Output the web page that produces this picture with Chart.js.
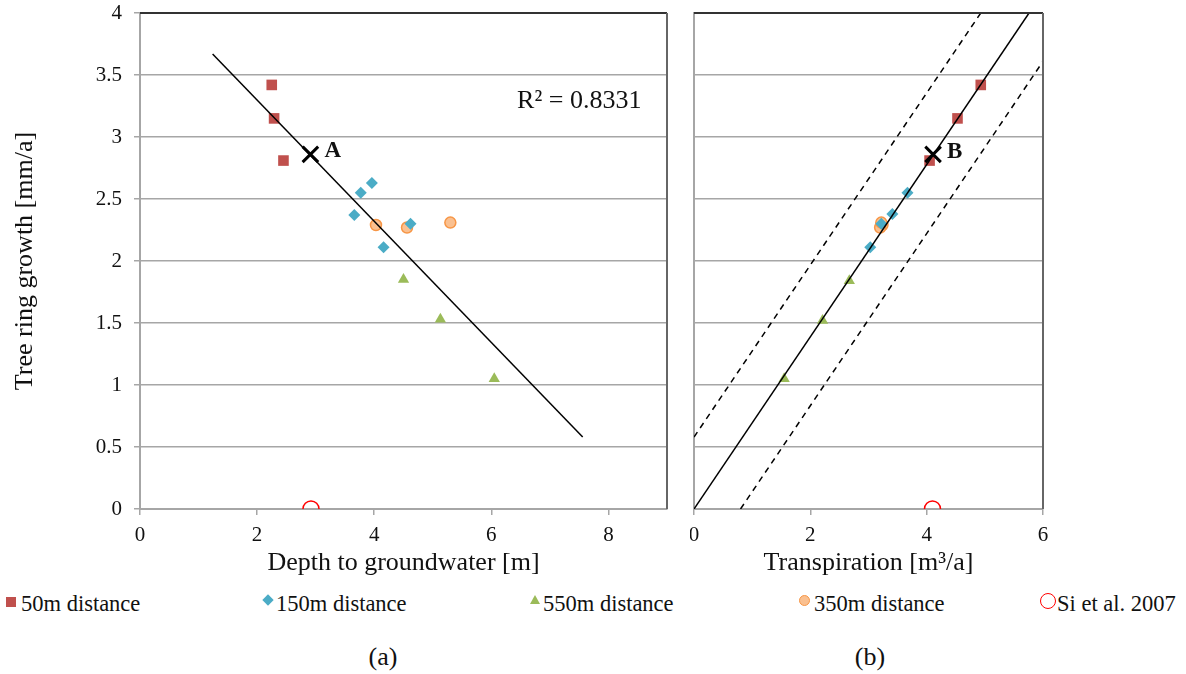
<!DOCTYPE html>
<html>
<head>
<meta charset="utf-8">
<script src="https://cdn.jsdelivr.net/npm/chart.js@4.4.0/dist/chart.umd.min.js"></script>
<style>
body { margin: 0; background: #fff; }
#wrap { position: relative; width: 1186px; height: 674px; font-family: 'Liberation Serif', 'Times New Roman', serif; color: #111; overflow: hidden; }
#c1 { position: absolute; left: 0; top: 0; }
#c2 { position: absolute; left: 690px; top: 0; }
.leg { position: absolute; top: 591px; font-size: 22.5px; line-height: 26px; white-space: nowrap; }
.mk { position: absolute; }
.cap { position: absolute; top: 642px; font-size: 26px; line-height: 30px; transform: translateX(-50%); }
</style>
</head>
<body>
<div id="wrap">
  <canvas id="c1" width="690" height="590"></canvas>
  <canvas id="c2" width="496" height="590"></canvas>

  <div class="mk" style="left:6px;top:597px;width:10px;height:10px;background:#C0504D"></div>
  <div class="leg" style="left:21px">50m distance</div>
  <div class="mk" style="left:264px;top:596px;width:8px;height:8px;background:#4BACC6;transform:rotate(45deg)"></div>
  <div class="leg" style="left:276px">150m distance</div>
  <div class="mk" style="left:530px;top:595px;width:0;height:0;border-left:5px solid transparent;border-right:5px solid transparent;border-bottom:9px solid #9BBB59"></div>
  <div class="leg" style="left:543px">550m distance</div>
  <div class="mk" style="left:799px;top:595px;width:9px;height:9px;border-radius:50%;background:#FAC090;border:1.5px solid #F79646"></div>
  <div class="leg" style="left:814px">350m distance</div>
  <div class="mk" style="left:1040px;top:593px;width:14px;height:14px;border-radius:50%;border:1.5px solid #FF0000"></div>
  <div class="leg" style="left:1057px">Si et al. 2007</div>

  <div class="cap" style="left:383px">(a)</div>
  <div class="cap" style="left:870px">(b)</div>
</div>
<script>
// (a) depth to groundwater [m] vs tree ring growth [mm/a]
const depth50 = [2.25, 2.29, 2.45];
const growth50 = [3.42, 3.15, 2.81];
const depth150 = [3.96, 3.77, 3.66, 4.62, 4.16];
const growth150 = [2.63, 2.55, 2.37, 2.30, 2.11];
const depth350 = [4.03, 4.56, 5.30];
const growth350 = [2.29, 2.27, 2.31];
const depth550 = [4.50, 5.13, 6.05];
const growth550 = [1.85, 1.53, 1.05];
const depthSi = [2.92];
const growthSi = [0];
const depthA = [2.91];
const growthA = [2.86];
const trendDepth = [1.24, 7.56];
const trendGrowth = [3.67, 0.58];

// (b) transpiration [m3/a] vs tree ring growth [mm/a]
const transp50 = [4.93, 4.53, 4.05];
const tGrowth50 = [3.42, 3.15, 2.81];
const transp150 = [3.67, 3.41, 3.03, 3.22];
const tGrowth150 = [2.55, 2.38, 2.11, 2.30];
const transp350 = [3.24, 3.20, 3.22];
const tGrowth350 = [2.29, 2.27, 2.31];
const transp550 = [2.67, 2.21, 1.55];
const tGrowth550 = [1.84, 1.52, 1.05];
const transpSi = [4.10];
const tGrowthSi = [0];
const transpB = [4.11];
const tGrowthB = [2.86];
const fitT = [0, 5.76];
const fitG = [0, 4];
const upperT = [0, 4.93];
const upperG = [0.58, 4];
const lowerT = [0.8, 6];
const lowerG = [0, 3.61];

const yTicks = [0, 0.5, 1, 1.5, 2, 2.5, 3, 3.5, 4];

const serif = "'Liberation Serif', 'Times New Roman', serif";
const gridGrey = '#a6a6a6';

function pts(xs, ys) {
    return xs.map(function(x, i) { return {x: x, y: ys[i]}; });
}

function markers(xs, ys, style, radius, fill, border, bw) {
    return {
        data: pts(xs, ys),
        pointStyle: style,
        pointRadius: radius,
        backgroundColor: fill,
        borderColor: border,
        pointBorderWidth: bw,
        borderWidth: bw,
        order: 3
    };
}

function line(xs, ys, dash) {
    return {
        data: pts(xs, ys),
        showLine: true,
        borderColor: '#000',
        borderWidth: 1.5,
        borderDash: dash || [],
        pointRadius: 0,
        order: 1
    };
}

function cross(xs, ys) {
    return {
        data: pts(xs, ys),
        pointStyle: 'crossRot',
        pointRadius: 11,
        borderColor: '#000',
        pointBorderWidth: 3,
        order: 0
    };
}

// keep the plot area fixed: no extra room for overflowing tick labels
function noOverflow(s) {
    s.paddingTop = 0;
    s.paddingBottom = 0;
    s.paddingLeft = 0;
    s.paddingRight = 0;
}

// frame on top and right plus text notes placed in data units
function framePlugin(notes) {
    return {
        id: 'frame',
        afterDraw(chart) {
            const a = chart.chartArea;
            const ctx = chart.ctx;
            ctx.save();
            ctx.lineWidth = 2;
            ctx.strokeStyle = '#333';
            ctx.beginPath();
            ctx.moveTo(a.left, a.top);
            ctx.lineTo(a.right, a.top);
            ctx.stroke();
            ctx.strokeStyle = '#666';
            ctx.beginPath();
            ctx.moveTo(a.right, a.top);
            ctx.lineTo(a.right, a.bottom);
            ctx.stroke();
            notes.forEach(function(n) {
                ctx.font = n.font;
                ctx.fillStyle = '#111';
                ctx.textAlign = 'left';
                ctx.textBaseline = 'middle';
                ctx.fillText(n.text, chart.scales.x.getPixelForValue(n.x), chart.scales.y.getPixelForValue(n.y));
            });
            ctx.restore();
        }
    };
}

function xAxis(max, title, height) {
    return {
        type: 'linear', min: 0, max: max,
        ticks: { stepSize: 2, includeBounds: false, color: '#111', padding: 8, font: { family: serif, size: 21 } },
        grid: { drawOnChartArea: false, tickLength: 6, color: gridGrey, lineWidth: 1.5 },
        border: { color: gridGrey, width: 2 },
        title: { display: true, text: title, color: '#111', font: { family: serif, size: 26 }, padding: { top: 0, bottom: 11 } },
        afterFit(s) { s.height = height; noOverflow(s); }
    };
}

Chart.defaults.animation = false;

new Chart(document.getElementById('c1'), {
    type: 'scatter',
    data: {
        datasets: [
            cross(depthA, growthA),
            line(trendDepth, trendGrowth),
            markers(depth50, growth50, 'rect', 7.5, '#C0504D', '#C0504D', 0),
            markers(depth150, growth150, 'rectRot', 6, '#4BACC6', '#4BACC6', 0),
            markers(depth350, growth350, 'circle', 5.5, '#FAC090', '#F79646', 1.5),
            markers(depth550, growth550, 'triangle', 6.5, '#9BBB59', '#9BBB59', 0),
            markers(depthSi, growthSi, 'circle', 8, 'rgba(0,0,0,0)', '#FF0000', 1.5)
        ]
    },
    options: {
        responsive: false,
        layout: { autoPadding: false, padding: { left: 0, top: 13, right: 23, bottom: 0 } },
        plugins: { legend: { display: false }, tooltip: { enabled: false } },
        scales: {
            x: xAxis(9, 'Depth to groundwater [m]', 81),
            y: {
                min: 0, max: 4,
                afterBuildTicks(s) { s.ticks = yTicks.map(function(v) { return {value: v}; }); },
                ticks: { color: '#111', padding: 12, font: { family: serif, size: 21 }, callback: function(v) { return String(v); } },
                grid: { color: gridGrey, lineWidth: 1.5, tickLength: 6 },
                border: { color: gridGrey, width: 2 },
                title: { display: true, text: 'Tree ring growth [mm/a]', color: '#111', font: { family: serif, size: 26 }, padding: { top: 10 } },
                afterFit(s) { s.width = 140; noOverflow(s); }
            }
        }
    },
    plugins: [framePlugin([
        { text: 'A', x: 3.15, y: 2.89, font: 'bold 23px ' + serif },
        { text: 'R\u00b2 = 0.8331', x: 6.44, y: 3.29, font: '26px ' + serif }
    ])]
});

new Chart(document.getElementById('c2'), {
    type: 'scatter',
    data: {
        datasets: [
            cross(transpB, tGrowthB),
            line(fitT, fitG),
            line(upperT, upperG, [6, 5]),
            line(lowerT, lowerG, [6, 5]),
            markers(transp50, tGrowth50, 'rect', 7.5, '#C0504D', '#C0504D', 0),
            markers(transp150, tGrowth150, 'rectRot', 6, '#4BACC6', '#4BACC6', 0),
            markers(transp350, tGrowth350, 'circle', 5.5, '#FAC090', '#F79646', 1.5),
            markers(transp550, tGrowth550, 'triangle', 6.5, '#9BBB59', '#9BBB59', 0),
            markers(transpSi, tGrowthSi, 'circle', 8, 'rgba(0,0,0,0)', '#FF0000', 1.5)
        ]
    },
    options: {
        responsive: false,
        layout: { autoPadding: false, padding: { left: 0, top: 13, right: 143, bottom: 0 } },
        plugins: { legend: { display: false }, tooltip: { enabled: false } },
        scales: {
            x: xAxis(6, 'Transpiration [m\u00b3/a]', 81),
            y: {
                min: 0, max: 4,
                afterBuildTicks(s) { s.ticks = yTicks.map(function(v) { return {value: v}; }); },
                ticks: { display: false },
                grid: { color: gridGrey, lineWidth: 1.5, drawTicks: false },
                border: { color: gridGrey, width: 2 },
                afterFit(s) { s.width = 4; noOverflow(s); }
            }
        }
    },
    plugins: [framePlugin([
        { text: 'B', x: 4.35, y: 2.88, font: 'bold 23px ' + serif }
    ])]
});
</script>
</body>
</html>
